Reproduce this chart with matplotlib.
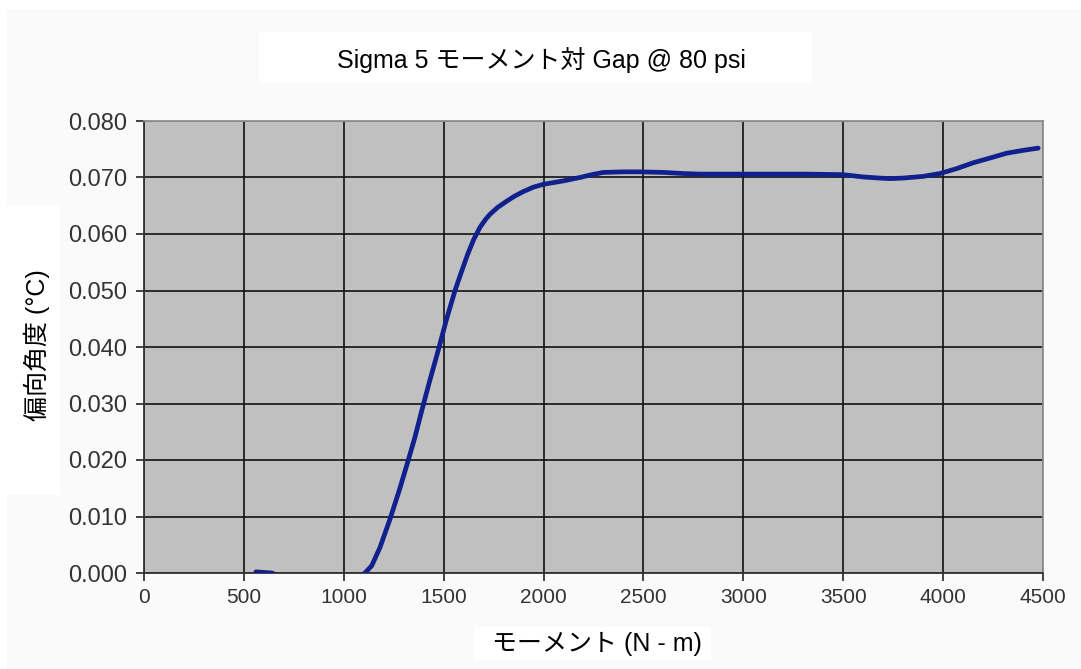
import matplotlib.pyplot as plt
from matplotlib.patches import Rectangle
from matplotlib.ticker import FormatStrFormatter, MultipleLocator

plt.rcParams['font.family'] = ['Liberation Sans', 'Noto Sans CJK JP', 'DejaVu Sans']

# Moment (N-m) and deflection angle
moment = [560, 600, 640, 700, 800, 900, 1000, 1060, 1106, 1140, 1181, 1231, 1281,
          1323, 1356, 1390, 1430, 1472, 1515, 1557, 1582, 1620, 1650, 1682, 1710,
          1732, 1770, 1815, 1855, 1898, 1950, 1999, 2050, 2099, 2140, 2182, 2240,
          2299, 2400, 2482, 2600, 2700, 2783, 3000, 3317, 3500, 3600, 3680, 3734,
          3800, 3900, 3984, 4070, 4150, 4240, 4318, 4400, 4476]
angle = [0.0002, 0.0001, 0.0, -0.001, -0.002, -0.0025, -0.002, -0.001, 0.0, 0.0013,
         0.0045, 0.0095, 0.0150, 0.0200, 0.0240, 0.0287, 0.0340, 0.0393, 0.0450,
         0.0500, 0.0526, 0.0564, 0.0590, 0.0612, 0.0626, 0.0635, 0.0647, 0.0658,
         0.0667, 0.0675, 0.0683, 0.0688, 0.0691, 0.0694, 0.0697, 0.0700, 0.0705,
         0.0709, 0.0710, 0.0710, 0.0709, 0.0707, 0.0706, 0.0706, 0.0706, 0.0705,
         0.0701, 0.0699, 0.0698, 0.0699, 0.0702, 0.0707, 0.0716, 0.0726, 0.0735,
         0.0743, 0.0748, 0.0752]

title = 'Sigma 5 モーメント対 Gap @ 80 psi'
xlabel = 'モーメント (N - m)'
ylabel = '偏向角度 (°C)'

W, H = 1081, 669
fig = plt.figure(figsize=(W / 100, H / 100), dpi=100, facecolor='white')

# light panel behind the chart
fig.patches.append(Rectangle((7 / W, 0), 1 - 7 / W, 1 - 9 / H, transform=fig.transFigure,
                             facecolor='#fafafa', edgecolor='none', zorder=0))

ax = fig.add_axes([144 / W, 1 - 573 / H, (1043 - 144) / W, (573 - 121) / H])
ax.set_zorder(5)
ax.set_facecolor('#c0c0c0')
ax.plot(moment, angle, color='#10208c', lw=3.4, solid_capstyle='round',
        solid_joinstyle='round', zorder=3)

ax.set_xlim(0, 4500)
ax.set_ylim(0, 0.08)
ax.xaxis.set_major_locator(MultipleLocator(500))
ax.yaxis.set_major_locator(MultipleLocator(0.01))
ax.yaxis.set_major_formatter(FormatStrFormatter('%.3f'))
ax.grid(True, color='#111111', lw=1.2)
ax.set_axisbelow(True)
ax.tick_params(direction='out', length=6, width=1.2, color='#222222',
               labelcolor='#333333')
ax.tick_params(axis='x', labelsize=15, pad=5)
ax.tick_params(axis='y', labelsize=17, pad=6)
for s in ['left', 'bottom']:
    ax.spines[s].set_color('#333333')
    ax.spines[s].set_linewidth(1.3)
for s in ['top', 'right']:
    ax.spines[s].set_color('#909090')
    ax.spines[s].set_linewidth(1.3)

# white boxes with title and axis labels
def box(x0, y0, x1, y1):
    fig.patches.append(Rectangle((x0 / W, 1 - y1 / H), (x1 - x0) / W, (y1 - y0) / H,
                                 transform=fig.transFigure, facecolor='white',
                                 edgecolor='none', zorder=1))

box(259, 32, 812, 83)
box(7, 205, 60, 495)
box(474, 627, 711, 660)

fig.text(541 / W, 1 - 60 / H, title, ha='center', va='center', fontsize=18,
         color='black', zorder=6)
fig.text(37 / W, 1 - 345 / H, ylabel, ha='center', va='center', rotation=90,
         fontsize=18, color='black', zorder=6)
fig.text(597 / W, 1 - 644 / H, xlabel, ha='center', va='center', fontsize=18,
         color='black', zorder=6)

fig.savefig('out.png', dpi=100, facecolor=fig.get_facecolor())
